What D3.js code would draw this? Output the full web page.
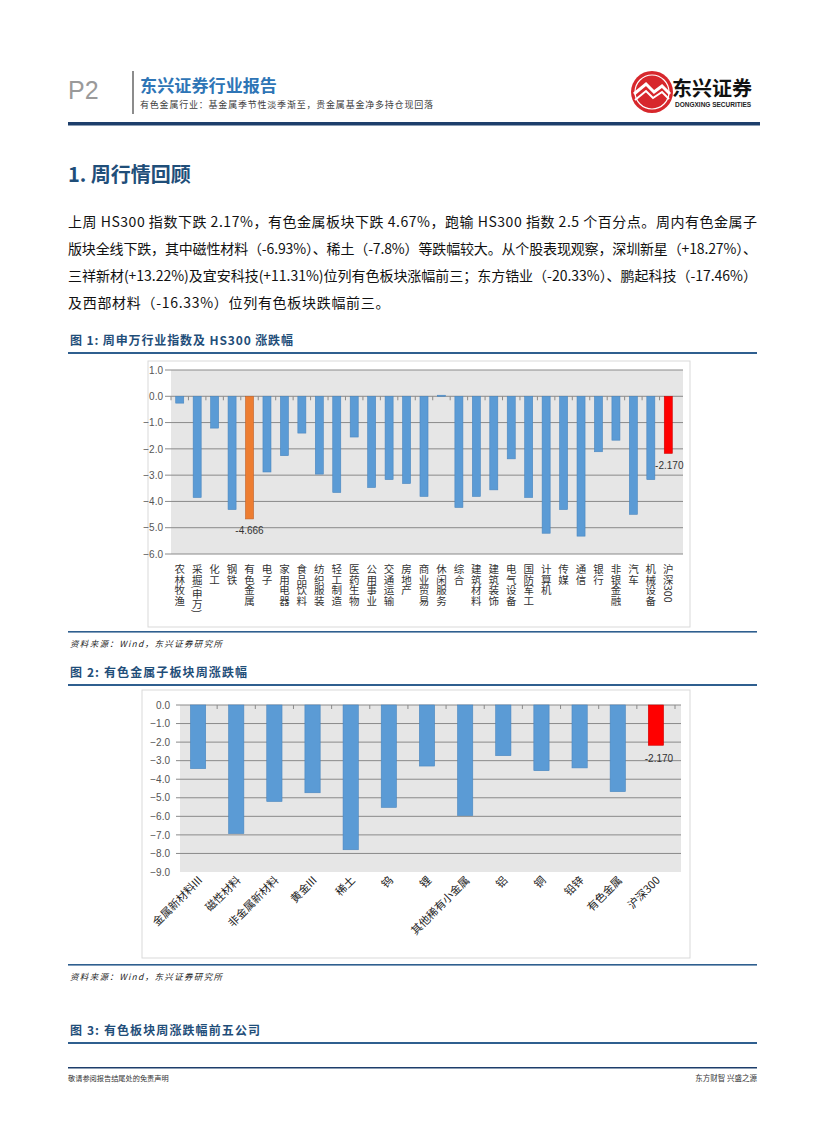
<!DOCTYPE html>
<html><head><meta charset="utf-8">
<script src="https://cdn.jsdelivr.net/npm/d3@7"></script>
<style>
body{margin:0;background:#fff}
svg{display:block}
text{font-family:"Noto Sans CJK SC","Noto Sans",sans-serif}
</style></head>
<body><svg id="page" width="827" height="1122"></svg>
<script>
// ---------- data ----------
const industries = ["农林牧渔","采掘(申万)","化工","钢铁","有色金属","电子","家用电器","食品饮料","纺织服装","轻工制造","医药生物","公用事业","交通运输","房地产","商业贸易","休闲服务","综合","建筑材料","建筑装饰","电气设备","国防军工","计算机","传媒","通信","银行","非银金融","汽车","机械设备","沪深300"];
const industryValues = [-0.26,-3.85,-1.21,-4.31,-4.666,-2.88,-2.26,-1.40,-2.96,-3.66,-1.55,-3.47,-3.17,-3.32,-3.81,0.04,-4.23,-3.81,-3.56,-2.38,-3.85,-5.21,-4.31,-5.32,-2.11,-1.67,-4.49,-3.17,-2.17];
const industryTicks = [1,0,-1,-2,-3,-4,-5,-6];
const industryLabels = {"有色金属":"-4.666","沪深300":"-2.170"};

const subsectors = ["金属新材料III","磁性材料","非金属新材料","黄金III","稀土","钨","锂","其他稀有小金属","铝","铜","铅锌","有色金属","沪深300"];
const subsectorValues = [-3.43,-6.93,-5.2,-4.73,-7.8,-5.52,-3.29,-5.96,-2.73,-3.54,-3.39,-4.67,-2.17];
const subsectorTicks = [0,-1,-2,-3,-4,-5,-6,-7,-8,-9];
const subsectorLabels = {"沪深300":"-2.170"};

const paragraphLines = [
  "上周 HS300 指数下跌 2.17%，有色金属板块下跌 4.67%，跑输 HS300 指数 2.5 个百分点。周内有色金属子",
  "版块全线下跌，其中磁性材料（-6.93%）、稀土（-7.8%）等跌幅较大。从个股表现观察，深圳新星（+18.27%）、",
  "三祥新材(+13.22%)及宜安科技(+11.31%)位列有色板块涨幅前三；东方锆业（-20.33%）、鹏起科技（-17.46%）",
  "及西部材料（-16.33%）位列有色板块跌幅前三。"
];

// ---------- page ----------
const svg = d3.select("#page");
const navy = "#1f4e79";
const fmt = d3.format(".1f");

// header
svg.append("text").attr("x",68).attr("y",99).attr("font-size",25).attr("fill","#9a9a9a")
  .style("font-family","Liberation Sans, Arial, sans-serif").text("P2");
svg.append("line").attr("x1",133).attr("x2",133).attr("y1",71).attr("y2",114).attr("stroke","#8c8c8c").attr("stroke-width",2);
svg.append("text").attr("x",140).attr("y",92).attr("font-size",16.5).attr("font-weight","bold").attr("fill","#2e75b6")
  .attr("textLength",137).attr("lengthAdjust","spacingAndGlyphs").text("东兴证券行业报告");
svg.append("text").attr("x",140).attr("y",108).attr("font-size",9).attr("fill","#404040")
  .attr("textLength",293).attr("lengthAdjust","spacing").text("有色金属行业：基金属季节性淡季渐至，贵金属基金净多持仓现回落");

// logo
const logo = svg.append("g");
logo.append("circle").attr("cx",652).attr("cy",92).attr("r",21).attr("fill","#d7272c");
logo.append("path").attr("d","M634,94 L646,84 L654,92 L662,86 L670,94").attr("fill","none").attr("stroke","#fff").attr("stroke-width",3);
logo.append("path").attr("d","M635,100 L646,91 L653,98 L662,92 L669,99").attr("fill","none").attr("stroke","#fff").attr("stroke-width",2);
logo.append("circle").attr("cx",652).attr("cy",92).attr("r",17).attr("fill","none").attr("stroke","#fff").attr("stroke-width",1.2);
svg.append("text").attr("x",672).attr("y",96).attr("font-size",20).attr("font-weight","bold").attr("fill","#111").text("东兴证券");
svg.append("text").attr("x",675).attr("y",107).attr("font-size",6.5).attr("font-weight","bold").attr("fill","#222")
  .style("font-family","Liberation Sans, Arial, sans-serif").text("DONGXING SECURITIES");

svg.append("rect").attr("x",68).attr("y",122).attr("width",692).attr("height",3.5).attr("fill","#1d3e6b");

// heading
svg.append("text").attr("x",68).attr("y",182).attr("font-size",20).attr("font-weight","bold").attr("fill",navy).text("1. 周行情回顾");

// paragraph
paragraphLines.forEach((t,i)=>{
  const tx = svg.append("text").attr("x",68).attr("y",227+i*27).attr("font-size",14).attr("fill","#111").text(t);
  if(i<3) tx.attr("textLength",689).attr("lengthAdjust","spacing");
  else tx.attr("letter-spacing",0.7);
});

function figTitle(y, t, len){
  svg.append("text").attr("x",70).attr("y",y).attr("font-size",12).attr("font-weight","bold").attr("fill",navy)
    .attr("textLength",len).attr("lengthAdjust","spacing").text(t);
  svg.append("rect").attr("x",68).attr("y",y+7).attr("width",689).attr("height",2).attr("fill","#2f5f8f");
}
function source(y){
  svg.append("rect").attr("x",68).attr("y",y).attr("width",689).attr("height",1.6).attr("fill","#2f5f8f");
  svg.append("text").attr("x",70).attr("y",y+16).attr("font-size",8.5).attr("font-style","italic").attr("fill","#222")
    .attr("textLength",152).attr("lengthAdjust","spacing").text("资料来源：Wind，东兴证券研究所");
}

// ---------- chart 1 ----------
figTitle(345,"图 1: 周申万行业指数及 HS300 涨跌幅",223);
svg.append("rect").attr("x",148).attr("y",361).attr("width",542).attr("height",266).attr("fill","#fff").attr("stroke","#d9d9d9");
{
  const x = d3.scaleBand().domain(industries).range([171,677]).paddingInner(0.54).paddingOuter(0.27);
  const y = d3.scaleLinear().domain([-6,1]).range([554,370]);
  const g = svg.append("g");
  g.append("rect").attr("x",171).attr("y",y(1)).attr("width",512).attr("height",y(-6)-y(1)).attr("fill","#e6e6e6");
  g.selectAll(".grid").data(industryTicks).join("line")
    .attr("x1",165).attr("x2",683).attr("y1",d=>y(d)).attr("y2",d=>y(d)).attr("stroke","#8a8a8a").attr("stroke-width",1);
  const ax = g.append("g").attr("transform","translate(165,0)")
    .call(d3.axisLeft(y).tickValues(industryTicks).tickFormat(fmt).tickSize(0).tickPadding(2));
  ax.select(".domain").remove();
  ax.selectAll("text").attr("font-size",10).attr("fill","#555").style("font-family","Liberation Sans, Arial, sans-serif");
  const step = x.step();
  g.selectAll(".ct").data(industries).join("line")
    .attr("x1",d=>x(d)-x.bandwidth()*0.5-step*0.04).attr("x2",d=>x(d)-x.bandwidth()*0.5-step*0.04)
    .attr("y1",y(0)).attr("y2",y(0)+4).attr("stroke","#8a8a8a");
  g.selectAll(".bar").data(industries).join("rect")
    .attr("x",d=>x(d)).attr("width",x.bandwidth())
    .attr("y",(d,i)=>y(Math.max(0,industryValues[i])))
    .attr("height",(d,i)=>Math.abs(y(industryValues[i])-y(0)))
    .attr("fill",d=>d==="有色金属"?"#ed7d31":d==="沪深300"?"#ff0000":"#5b9bd5")
    .attr("stroke",d=>d==="有色金属"?"#c0622a":d==="沪深300"?"#d00000":"#4a86bf").attr("stroke-width",0.6);
  const lab1 = industries.map((d,i)=>({d,v:industryValues[i]})).filter(o=>industryLabels[o.d]);
  g.selectAll(".dl").data(lab1).join("text")
    .attr("x",o=>o.d==="沪深300"?x(o.d)+x.bandwidth()/2+1:x(o.d)+x.bandwidth()/2)
    .attr("y",o=>o.d==="沪深300"?y(o.v)+16:y(o.v)+15)
    .attr("text-anchor","middle").attr("font-size",10).attr("fill","#333")
    .style("font-family","Liberation Sans, Arial, sans-serif").text(o=>industryLabels[o.d]);
  g.selectAll(".xl").data(industries).join("text")
    .attr("x",d=>x(d)+x.bandwidth()/2).attr("y",564)
    .attr("writing-mode","tb").style("writing-mode","vertical-rl")
    .attr("font-size",10.5).attr("fill","#333").text(d=>d);
}
source(631);

// ---------- chart 2 ----------
figTitle(677,"图 2: 有色金属子板块周涨跌幅",177);
svg.append("rect").attr("x",142).attr("y",690).attr("width",548).attr("height",268).attr("fill","#fff").attr("stroke","#d9d9d9");
{
  const x = d3.scaleBand().domain(subsectors).range([179,675]).paddingInner(0.6).paddingOuter(0.3);
  const y = d3.scaleLinear().domain([-9,0]).range([872,705]);
  const g = svg.append("g");
  g.append("rect").attr("x",180).attr("y",y(0)).attr("width",501).attr("height",y(-9)-y(0)).attr("fill","#e6e6e6");
  g.selectAll(".grid").data(subsectorTicks.filter(t=>t>-9)).join("line")
    .attr("x1",176).attr("x2",681).attr("y1",d=>y(d)).attr("y2",d=>y(d)).attr("stroke","#8a8a8a").attr("stroke-width",1);
  const ax = g.append("g").attr("transform","translate(172,0)")
    .call(d3.axisLeft(y).tickValues(subsectorTicks).tickFormat(fmt).tickSize(0).tickPadding(2));
  ax.select(".domain").remove();
  ax.selectAll("text").attr("font-size",10).attr("fill","#555").style("font-family","Liberation Sans, Arial, sans-serif");
  const step = x.step();
  g.selectAll(".ct").data(subsectors).join("line")
    .attr("x1",d=>x(d)+x.bandwidth()/2+step/2).attr("x2",d=>x(d)+x.bandwidth()/2+step/2)
    .attr("y1",y(0)).attr("y2",y(0)+4).attr("stroke","#8a8a8a");
  g.selectAll(".bar").data(subsectors).join("rect")
    .attr("x",d=>x(d)).attr("width",x.bandwidth())
    .attr("y",y(0)).attr("height",(d,i)=>y(subsectorValues[i])-y(0))
    .attr("fill",d=>d==="沪深300"?"#ff0000":"#5b9bd5")
    .attr("stroke",d=>d==="沪深300"?"#d00000":"#4a86bf").attr("stroke-width",0.6);
  const lab2 = subsectors.map((d,i)=>({d,v:subsectorValues[i]})).filter(o=>subsectorLabels[o.d]);
  g.selectAll(".dl").data(lab2).join("text")
    .attr("x",o=>x(o.d)+x.bandwidth()/2+3).attr("y",o=>y(o.v)+17)
    .attr("text-anchor","middle").attr("font-size",10).attr("fill","#333")
    .style("font-family","Liberation Sans, Arial, sans-serif").text(o=>subsectorLabels[o.d]);
  g.selectAll(".xl").data(subsectors).join("text")
    .attr("transform",d=>`translate(${x(d)+x.bandwidth()/2+5},${881}) rotate(-45)`)
    .attr("text-anchor","end").attr("font-size",11).attr("fill","#222").text(d=>d);
}
source(964);

// fig 3 title
figTitle(1035,"图 3: 有色板块周涨跌幅前五公司",190);

// footer
svg.append("rect").attr("x",68).attr("y",1067).attr("width",689).attr("height",1.5).attr("fill","#1d3e6b");
svg.append("text").attr("x",68).attr("y",1081).attr("font-size",7.2).attr("fill","#333").text("敬请参阅报告结尾处的免责声明");
svg.append("text").attr("x",757).attr("y",1081).attr("text-anchor","end").attr("font-size",7.5).attr("fill","#333").text("东方财智 兴盛之源");
</script></body></html>
